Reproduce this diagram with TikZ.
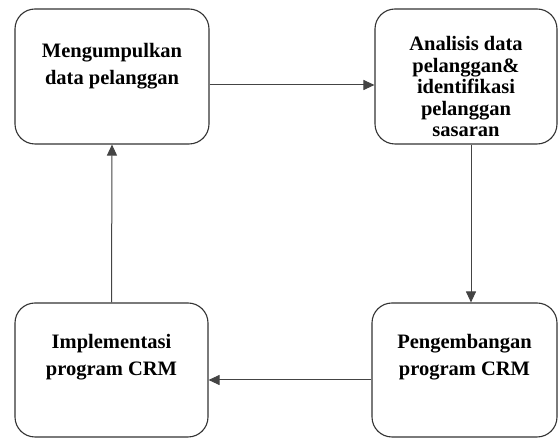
\documentclass[tikz,border=0pt]{standalone}
\usepackage{fontspec}
\setmainfont{Liberation Serif}
\usepackage{tikz}
\usepackage{xcolor}
\usetikzlibrary{arrows.meta, positioning}
\definecolor{edgegray}{HTML}{333333}
\definecolor{linegray}{HTML}{444444}

\begin{document}
\begin{tikzpicture}[x=1pt, y=1pt,
            box/.style={rectangle, rounded corners=20pt, draw=edgegray, line width=1.1pt, fill=white, inner sep=0pt},
            txt/.style={align=center, inner sep=0pt, font=\fontsize{20.5}{27}\selectfont\bfseries},
            flow/.style={draw=linegray, line width=1pt, -{Triangle[length=11pt, width=10pt]}}]
            \useasboundingbox (0,0) rectangle (558,438);
            % boxes
            \node[box, minimum width=194pt, minimum height=135pt] (box1) at (112,361.5) {};
            \node[box, minimum width=182pt, minimum height=135pt] (box2) at (466,361.5) {};
            \node[box, minimum width=193pt, minimum height=134pt] (box3) at (111.5,68) {};
            \node[box, minimum width=185pt, minimum height=134pt] (box4) at (464.5,68) {};
            % texts
            \node[txt, below=35pt of box1.north] (txt1) {Mengumpulkan\\data pelanggan};
            \node[txt, below=28pt of box2.north, font=\fontsize{20.5}{21.5}\selectfont\bfseries] (txt2) {Analisis data\\pelanggan\&\\identifikasi\\pelanggan\\sasaran};
            \node[txt, below=32pt of box3.north] (txt3) {Implementasi\\program CRM};
            \node[txt, below=32pt of box4.north] (txt4) {Pengembangan\\program CRM};
            % arrows
            \draw[flow] ([yshift=-8.5pt]box1.east) -- ([yshift=-8.5pt]box2.west);
            \draw[flow] ([xshift=5pt]box2.south) -- ([xshift=5pt]box2.south |- box4.north);
            \draw[flow] ([yshift=-10pt]box4.west) -- ([yshift=-10pt]box3.east);
            \draw[flow] (box3.north) -- (box1.south);
        \end{tikzpicture}
\end{document}
